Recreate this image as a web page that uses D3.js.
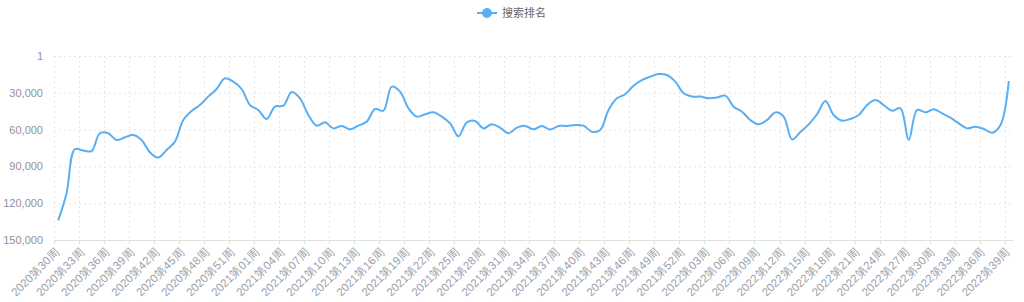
<!DOCTYPE html>
<html>
<head>
<meta charset="utf-8">
<script src="https://cdn.jsdelivr.net/npm/d3@7"></script>
<style>
  html, body { margin: 0; padding: 0; background: #fff; }
  svg { display: block; font-family: "Noto Sans CJK SC", "Noto Sans", sans-serif; }
</style>
</head>
<body>
<svg id="chart" width="1024" height="302"></svg>
<script>
// semanas por año: [año, primera, última]
const weekSpans = [[2020, 30, 53], [2021, 1, 52], [2022, 1, 39]];
const weeks = [];
weekSpans.forEach(([y, a, b]) => {
  for (let w = a; w <= b; w++) weeks.push(`${y}第${String(w).padStart(2, '0')}周`);
});

// 搜索排名
const rankValues = [
  134000, 112000, 76000, 77000, 77500, 63000, 63000, 68500, 66300, 64400,
  68500, 78500, 82800, 76600, 69800, 52200, 44800, 40000, 33100, 26900,
  18200, 20900, 26900, 40000, 44000, 51300, 41300, 40500, 29300, 34500,
  48100, 56800, 54100, 59000, 57000, 59800, 56800, 53500, 43200, 44600,
  25000, 29100, 42600, 49400, 47500, 45900, 49400, 54900, 65500, 54100,
  53000, 59000, 55700, 58400, 63000, 58400, 57000, 59800, 57000, 60000,
  57000, 57000, 56200, 56800, 61700, 60300, 44000, 34500, 31200, 24200,
  19600, 16900, 14700, 15500, 20900, 30400, 33100, 33100, 34500, 33900,
  32300, 41300, 45400, 52200, 55700, 52200, 46000, 49400, 68000, 62000,
  55700, 47500, 36700, 48100, 52700, 51300, 48100, 40000, 35900, 40000,
  44600, 42600, 68500, 44000, 45900, 43400, 46700, 50300, 54900, 59000,
  57600, 59500, 62500, 56200, 20400
];

const yTicks = [1, 30000, 60000, 90000, 120000, 150000];
const seriesName = '搜索排名';
const lineColor = '#5aaef2';

const svg = d3.select('#chart');
const plot = { left: 54, right: 1013, top: 56, bottom: 240 };

const x = d3.scaleBand().domain(weeks).range([plot.left, plot.right]).padding(0);
const y = d3.scaleLinear().domain([1, 150000]).range([plot.top, plot.bottom]);

// --- rejilla ---
const grid = svg.append('g');
grid.selectAll('line.h')
  .data(yTicks)
  .join('line')
  .attr('x1', plot.left).attr('x2', plot.right)
  .attr('y1', d => y(d) + 0.5).attr('y2', d => y(d) + 0.5)
  .attr('stroke', '#e6e6e6').attr('stroke-dasharray', '2,3');

const labeled = weeks.filter((d, i) => i % 3 === 0);
grid.selectAll('line.v')
  .data(labeled)
  .join('line')
  .attr('x1', d => Math.round(x(d)) + 0.5).attr('x2', d => Math.round(x(d)) + 0.5)
  .attr('y1', plot.top).attr('y2', plot.bottom)
  .attr('stroke', '#e6e6e6').attr('stroke-dasharray', '2,3');

// --- eje X ---
const xAxis = d3.axisBottom(x)
  .tickValues(labeled)
  .tickSize(0)
  .tickPadding(0);
const gx = svg.append('g').attr('transform', `translate(0,${plot.bottom})`).call(xAxis);
gx.select('.domain').attr('stroke', '#e0e0e0');
gx.selectAll('.tick text')
  .attr('fill', '#9aa0aa')
  .attr('font-size', 11.5)
  .attr('text-anchor', 'end')
  .attr('dy', '0.35em')
  .attr('transform', 'translate(-1,10) rotate(-45)');
// marcas cortas en los límites
svg.append('g').selectAll('line')
  .data(labeled)
  .join('line')
  .attr('x1', d => Math.round(x(d)) + 0.5).attr('x2', d => Math.round(x(d)) + 0.5)
  .attr('y1', plot.bottom).attr('y2', plot.bottom + 4)
  .attr('stroke', '#e0e0e0');

// --- eje Y ---
const yAxis = d3.axisLeft(y)
  .tickValues(yTicks)
  .tickSize(0)
  .tickPadding(11)
  .tickFormat(d3.format(','));
const gy = svg.append('g').attr('transform', `translate(${plot.left},0)`).call(yAxis);
gy.select('.domain').remove();
gy.selectAll('.tick text').attr('fill', '#8f939c').attr('font-size', 11);

// --- línea ---
const line = d3.line()
  .x((d, i) => x(weeks[i]) + x.bandwidth() / 2)
  .y(d => y(d))
  .curve(d3.curveCatmullRom.alpha(0.5));

svg.append('path')
  .datum(rankValues)
  .attr('d', line)
  .attr('fill', 'none')
  .attr('stroke', lineColor)
  .attr('stroke-width', 2)
  .attr('stroke-linejoin', 'round');

// --- leyenda ---
const lg = svg.append('g').attr('transform', 'translate(477,13)');
lg.append('line').attr('x1', 0).attr('x2', 20).attr('y1', 0).attr('y2', 0)
  .attr('stroke', lineColor).attr('stroke-width', 2);
lg.append('circle').attr('cx', 10).attr('cy', 0).attr('r', 5)
  .attr('fill', lineColor);
lg.append('text').attr('x', 25).attr('y', 0).attr('dy', '0.35em')
  .attr('fill', '#666').attr('font-size', 11)
  .text(seriesName);
</script>
</body>
</html>
